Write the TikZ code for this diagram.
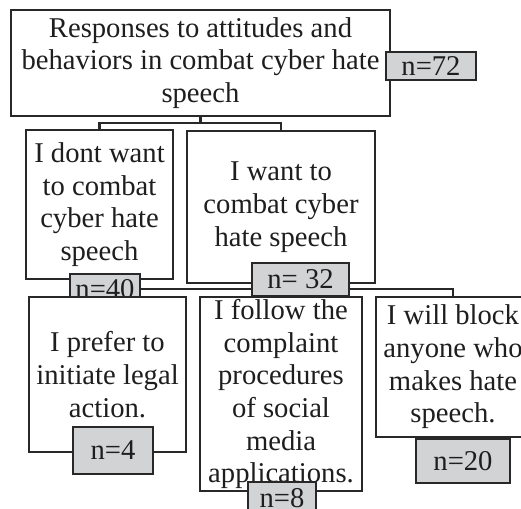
\documentclass[tikz,border=0pt]{standalone}
\usepackage{fontspec}
\setmainfont{Liberation Serif}
\usepackage{tikz}
\usetikzlibrary{positioning,calc,backgrounds}
\definecolor{boxline}{RGB}{40,40,40}
\definecolor{cntgray}{RGB}{210,211,213}
\definecolor{txtdark}{RGB}{30,30,30}
\tikzset{
  resp/.style={draw=boxline, fill=white, line width=1.3pt, align=center,
               inner sep=0pt, text=txtdark, font=\fontsize{16.3}{18.6}\selectfont},
  cnt/.style={draw=boxline, fill=cntgray, line width=1.3pt, inner sep=0pt,
              text=txtdark, font=\fontsize{16.3}{18.6}\selectfont},
  link/.style={boxline, line width=1.3pt},
}

\begin{document}
\begin{tikzpicture}
  \useasboundingbox (0,0) rectangle (10.42,-10.16);
  \clip (0,0) rectangle (10.42,-10.16);
  % root
  \node[resp, minimum width=7.58cm, minimum height=2.12cm] (root) at (4.01,-1.26)
    {Responses to attitudes and\\behaviors in combat cyber hate\\speech};
  \node[cnt, minimum width=1.80cm, minimum height=0.56cm] (n72) at (8.62,-1.32) {n=72};
  % first level
  \node[resp, minimum width=2.94cm, minimum height=2.98cm] (dont) at (1.99,-4.09)
    {I dont want\\to combat\\cyber hate\\speech};
  \node[resp, minimum width=3.76cm, minimum height=3.04cm] (want) at (5.62,-4.14)
    {I want to\\combat cyber\\hate speech};
  \node[cnt, minimum width=1.40cm, minimum height=0.60cm] (n40) at (2.10,-5.78) {n=40};
  \node[cnt, minimum width=1.94cm, minimum height=0.66cm] (n32) at (6.01,-5.59) {n= 32};
  % second level
  \node[resp, minimum width=3.14cm, minimum height=3.10cm] (prefer) at (2.15,-7.49)
    {I prefer to\\initiate legal\\action.};
  \node[resp, minimum width=3.24cm, minimum height=3.88cm] (follow) at (5.62,-7.88)
    {I follow the\\complaint\\procedures\\of social\\media\\applications.};
  \node[resp, minimum width=3.08cm, minimum height=2.80cm] (block) at (9.06,-7.34)
    {I will block\\anyone who\\makes hate\\speech.};
  \node[cnt, minimum width=1.60cm, minimum height=0.94cm] (n4) at (2.26,-9.01) {n=4};
  \node[cnt, minimum width=1.36cm, minimum height=0.64cm] (n8) at (5.64,-9.96) {n=8};
  \node[cnt, minimum width=1.88cm, minimum height=0.88cm] (n20) at (9.26,-9.22) {n=20};
  % connectors
  \begin{scope}[on background layer]
    \coordinate (split) at (4.01,-2.46);
    \coordinate (bar) at (5.62,-5.78);
    \draw[link] (root.south) -- (split);
    \draw[link] (split) -| (dont.north);
    \draw[link] (split) -| (want.north);
    \draw[link] (want.south) -- (bar) -| (block.north);
    \draw[link] (bar) -| (prefer.north);
    \draw[link] (bar) -- (follow.north);
  \end{scope}
\end{tikzpicture}
\end{document}
